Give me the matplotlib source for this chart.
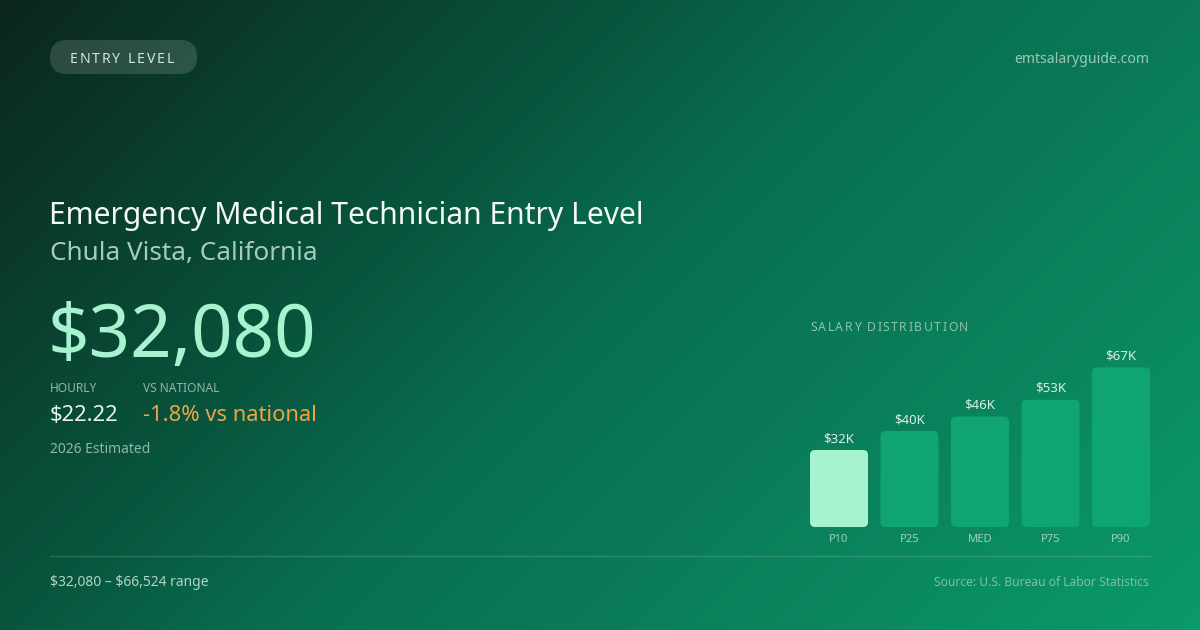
import numpy as np
import matplotlib
matplotlib.use("Agg")
import matplotlib.pyplot as plt
from matplotlib.patches import FancyBboxPatch
from matplotlib.colors import LinearSegmentedColormap

plt.rcParams['font.family'] = ['Noto Sans', 'DejaVu Sans']
plt.rcParams['text.parse_math'] = False

# --- data ---
badge = "ENTRY LEVEL"
site = "emtsalaryguide.com"
title = "Emergency Medical Technician Entry Level"
location = "Chula Vista, California"
annual = "$32,080"
hourly = "$22.22"
vs_national = "-1.8% vs national"
estimate_note = "2026 Estimated"
range_note = "$32,080 \u2013 $66,524 range"
source_note = "Source: U.S. Bureau of Labor Statistics"

pct_labels = ["P10", "P25", "MED", "P75", "P90"]
pct_values = [32.08, 40.0, 46.0, 53.0, 66.524]   # thousands of dollars
value_labels = ["$32K", "$40K", "$46K", "$53K", "$67K"]

W, H = 1200, 630
fig = plt.figure(figsize=(12, 6.3), dpi=100)

# background canvas in pixel coordinates
bg = fig.add_axes([0, 0, 1, 1])
bg.set_xlim(0, W)
bg.set_ylim(H, 0)
bg.axis("off")

# diagonal (135deg) gradient
xx, yy = np.meshgrid(np.arange(W) + 0.5, np.arange(H) + 0.5)
t = (xx + yy) / (W + H)
grad_cmap = LinearSegmentedColormap.from_list(
    "bg", [(0.0, "#0c261d"), (0.344, "#08553e"), (0.5, "#086f50"),
           (0.656, "#0a7a58"), (1.0, "#0a9a6a")])
bg.imshow(t, cmap=grad_cmap, extent=(0, W, H, 0), aspect="auto",
          interpolation="bilinear", zorder=0)

renderer = fig.canvas.get_renderer()


def spaced_text(ax, x, y, s, spacing, **kw):
    # draw text with letter spacing (pixels), left aligned at x
    cur = x
    for ch in s:
        tx = ax.text(cur, y, ch, ha="left", va="baseline", **kw)
        w = tx.get_window_extent(renderer=renderer).width
        if ch == " ":
            w = kw.get("fontsize", 10) / 0.72 * 0.26
        cur += w + spacing
    return cur


# badge pill
pill = FancyBboxPatch((50 + 17, 40 + 17), 147 - 34, 0,
                      boxstyle="round,pad=17,rounding_size=17",
                      fc="#ffffff", alpha=0.14, ec="none", zorder=1)
bg.add_patch(pill)
spaced_text(bg, 70, 63, badge, 1.8, fontsize=10.2, color="#d3e6de", zorder=2)

bg.text(1149, 63, site, ha="right", va="baseline", fontsize=10.1,
        color="#9cc9b6", zorder=2)

# headline block
bg.text(49, 224, title, ha="left", va="baseline", fontsize=21.65,
        color="#f2f8f5", zorder=2)
bg.text(50, 260, location, ha="left", va="baseline", fontsize=18.8,
        color="#a6cbbd", zorder=2)
bg.text(48, 357, annual, ha="left", va="baseline", fontsize=52.3,
        color="#a7f3d0", zorder=2)

bg.text(50, 392, "HOURLY", ha="left", va="baseline", fontsize=8.6,
        color="#8cb7a6", zorder=2)
bg.text(143, 392, "VS NATIONAL", ha="left", va="baseline", fontsize=8.6,
        color="#8cb7a6", zorder=2)
bg.text(50, 421, hourly, ha="left", va="baseline", fontsize=15.8,
        color="#eaf5f0", zorder=2)
bg.text(143, 421, vs_national, ha="left", va="baseline", fontsize=15.8,
        color="#eda447", zorder=2)
bg.text(50, 453, estimate_note, ha="left", va="baseline", fontsize=10,
        color="#8fb6a7", zorder=2)

# divider and footer
bg.plot([50, 1150], [556, 556], color="#ffffff", alpha=0.15, lw=1, zorder=2)
bg.text(50, 586, range_note, ha="left", va="baseline", fontsize=10,
        color="#b3d3c6", zorder=2)
bg.text(1149, 586, source_note, ha="right", va="baseline", fontsize=8.65,
        color="#7fbfa3", zorder=2)

# salary distribution
spaced_text(bg, 810, 331, "SALARY DISTRIBUTION", 1.5, fontsize=8.8,
            color="#8cc4ad", zorder=2)

px_per_k = 2.4
chart_top = 300
base_y = 527
left_px, right_px = 810, 1150
step_px = 70.5
bar_px = 58
ymax = (base_y - chart_top) / px_per_k
x0 = -(bar_px / 2) / step_px
x1 = (len(pct_values) - 1) + (bar_px / 2) / step_px
ax = fig.add_axes([left_px / W, (H - base_y) / H,
                   (right_px - left_px) / W, (base_y - chart_top) / H])
ax.set_xlim(x0, x1)
ax.set_ylim(0, ymax)
ax.axis("off")
ax.patch.set_alpha(0)

xs = np.arange(len(pct_values))
bw = bar_px / step_px
bars = ax.bar(xs, pct_values, width=bw)
aspect = step_px / px_per_k
r = 5 / step_px
for i, b in enumerate(bars):
    b.set_visible(False)
    color = "#a7f3d0" if i == 0 else "#10a673"
    patch = FancyBboxPatch((b.get_x(), b.get_y()), b.get_width(), b.get_height(),
                           boxstyle=f"round,pad=0,rounding_size={r}",
                           mutation_aspect=aspect, fc=color, ec="none",
                           alpha=0.97 if i else 1.0)
    ax.add_patch(patch)
    ax.annotate(value_labels[i], (xs[i], pct_values[i]), xytext=(0, 8 * 0.72),
                textcoords="offset points", ha="center", va="baseline",
                fontsize=9.5, color="#dcefe6", annotation_clip=False)
    ax.annotate(pct_labels[i], (xs[i], 0), xytext=(0, -15.5 * 0.72),
                textcoords="offset points", ha="center", va="baseline",
                fontsize=8, color="#9fd0bb", annotation_clip=False)

fig.savefig("out.png", dpi=100)
